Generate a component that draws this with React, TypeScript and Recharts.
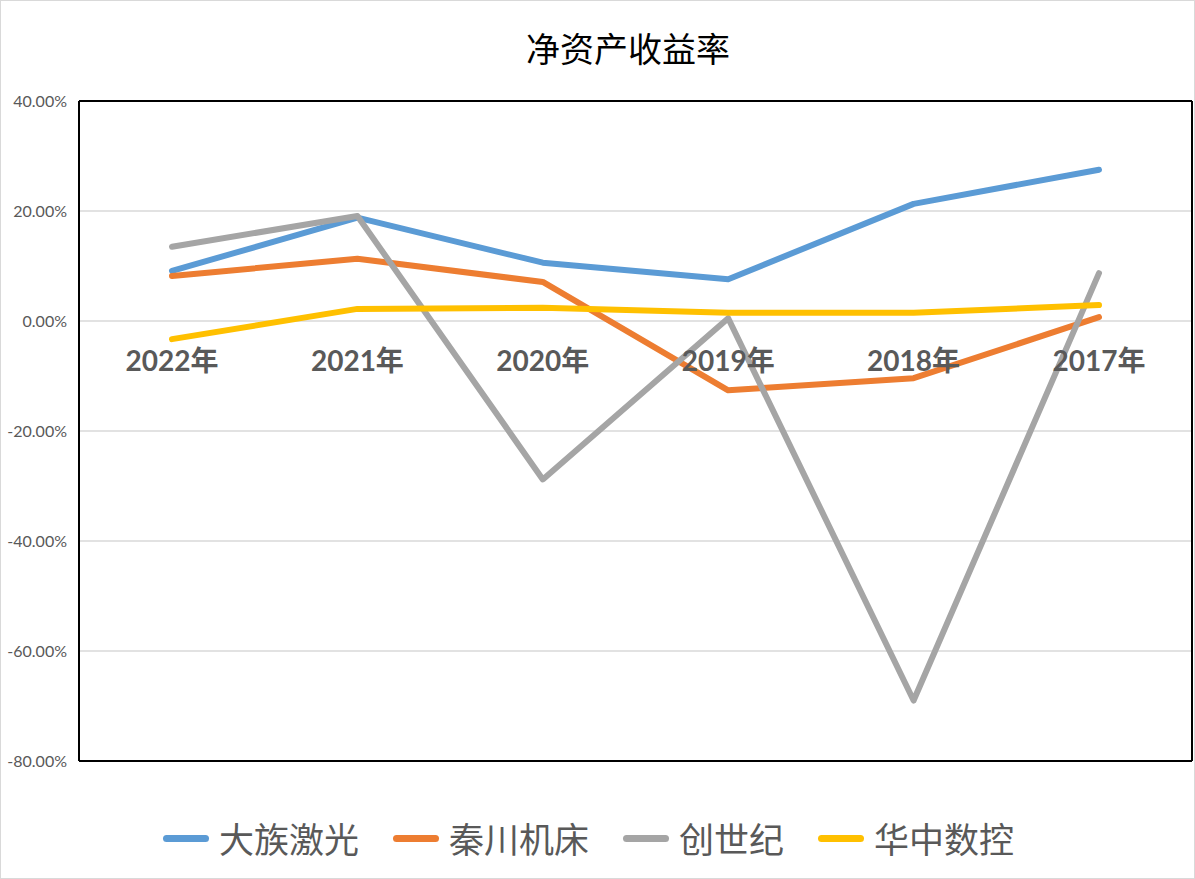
import React from 'react';
import {
  LineChart,
  Line,
  XAxis,
  YAxis,
  CartesianGrid,
  Legend,
} from 'recharts';

const years = ['2022年', '2021年', '2020年', '2019年', '2018年', '2017年'];
const hanslaser = [9.1, 18.8, 10.6, 7.6, 21.3, 27.5];
const qinchuan = [8.2, 11.3, 7.1, -12.6, -10.4, 0.7];
const chuangshiji = [13.5, 19.1, -28.8, 0.5, -69.0, 8.7];
const huazhong = [-3.3, 2.2, 2.4, 1.5, 1.5, 2.9];
const yTicks = [-80, -60, -40, -20, 0, 20, 40];

const series = [
  { key: 'hanslaser', name: '大族激光', color: '#5B9BD5' },
  { key: 'qinchuan', name: '秦川机床', color: '#ED7D31' },
  { key: 'chuangshiji', name: '创世纪', color: '#A5A5A5' },
  { key: 'huazhong', name: '华中数控', color: '#FFC000' },
];

const data = years.map((year, i) => ({
  year,
  hanslaser: hanslaser[i],
  qinchuan: qinchuan[i],
  chuangshiji: chuangshiji[i],
  huazhong: huazhong[i],
}));

const CJK = "'Noto Sans CJK SC', sans-serif";
const frameLine = { stroke: '#000', strokeWidth: 2 };

// Excel puts the category labels next to the 0% line, not at the bottom
const YearTick = ({ x, y, payload }: any) => (
  <text
    x={x}
    y={y - 401}
    textAnchor="middle"
    dominantBaseline="central"
    fill="#595959"
    fontSize={28}
    fontWeight="bold"
    fontFamily={`Lato, ${CJK}`}
  >
    {payload.value}
  </text>
);

const renderLegend = () => (
  <div style={{ display: 'flex', alignItems: 'center', paddingLeft: 163 }}>
    {series.map((s) => (
      <div key={s.key} style={{ display: 'flex', alignItems: 'center', marginRight: 34 }}>
        <span
          style={{
            display: 'inline-block',
            width: 46,
            height: 7,
            borderRadius: 4,
            background: s.color,
            marginRight: 10,
          }}
        />
        <span style={{ fontFamily: CJK, fontSize: 35, color: '#595959', lineHeight: '50px' }}>
          {s.name}
        </span>
      </div>
    ))}
  </div>
);

export default function App() {
  return (
    <div
      style={{
        position: 'absolute',
        left: 0,
        top: 0,
        width: 1195,
        height: 879,
        background: '#fff',
        border: '1px solid #d9d9d9',
        boxSizing: 'border-box',
      }}
    >
      <div
        style={{
          position: 'absolute',
          left: 0,
          top: 26,
          width: 1254,
          textAlign: 'center',
          fontFamily: CJK,
          fontSize: 34,
          color: '#000',
          lineHeight: '42px',
        }}
      >
        净资产收益率
      </div>
      <div style={{ position: 'absolute', left: -1, top: -1 }}>
        <LineChart
          width={1195}
          height={879}
          data={data}
          margin={{ top: 100, right: 2, left: 0, bottom: 88 }}
        >
          <CartesianGrid vertical={false} stroke="#d9d9d9" strokeWidth={1.5} />
          <XAxis
            dataKey="year"
            height={30}
            padding={{ left: 93, right: 93 }}
            tickLine={false}
            tickSize={0}
            tickMargin={0}
            axisLine={frameLine}
            tick={<YearTick />}
            interval={0}
          />
          {/* top and right edges of the plot frame */}
          <XAxis
            xAxisId="frame"
            orientation="top"
            dataKey="year"
            height={1}
            tick={false}
            tickLine={false}
            axisLine={frameLine}
          />
          <YAxis
            yAxisId="frame"
            orientation="right"
            width={1}
            domain={[-80, 40]}
            tick={false}
            tickLine={false}
            axisLine={frameLine}
          />
          <YAxis
            width={79}
            domain={[-80, 40]}
            ticks={yTicks}
            tickLine={false}
            tickSize={0}
            tickMargin={12}
            axisLine={frameLine}
            tick={{ fill: '#595959', fontSize: 16, fontFamily: 'Lato, sans-serif' }}
            tickFormatter={(v: number) => `${v.toFixed(2)}%`}
          />
          {series.map((s) => (
            <Line
              key={s.key}
              type="linear"
              dataKey={s.key}
              name={s.name}
              stroke={s.color}
              strokeWidth={6}
              strokeLinecap="round"
              strokeLinejoin="round"
              dot={false}
              activeDot={false}
              isAnimationActive={false}
            />
          ))}
          <Legend
            layout="horizontal"
            verticalAlign="middle"
            align="center"
            content={renderLegend}
            wrapperStyle={{ top: 813, left: 0, width: 1195 }}
          />
        </LineChart>
      </div>
    </div>
  );
}
